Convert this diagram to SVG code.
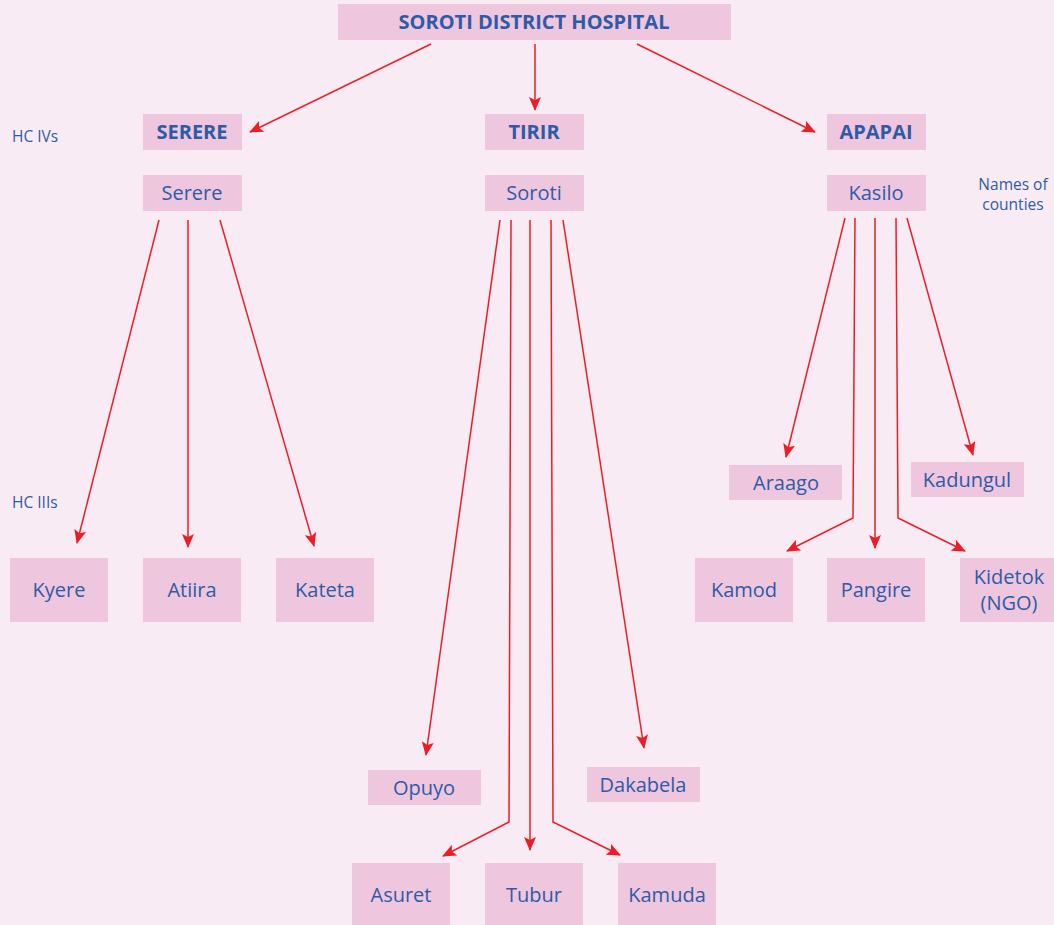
<svg xmlns="http://www.w3.org/2000/svg" width="1054" height="925" viewBox="0 0 1054 925">
<defs>
<style>
.box{fill:#eec6de}
.t{font-family:"Open Sans","Liberation Sans",sans-serif;font-size:20px;fill:#2e5ba6;text-anchor:middle}
.b{font-weight:bold}
.s{font-family:"Open Sans","Liberation Sans",sans-serif;font-size:15.5px;fill:#2e5ba6}
.c{fill:none;stroke:#ee1c25;stroke-width:1.5}
</style>
<marker id="a" markerUnits="userSpaceOnUse" markerWidth="14" markerHeight="12" refX="13" refY="6" orient="auto" viewBox="0 0 14 12">
<path d="M0,0 L14,6 L0,12 L3,6 z" fill="#ee1c25"/>
</marker>
</defs>
<rect width="1054" height="925" fill="#f9ebf4"/>
<text class="s" x="12" y="142">HC IVs</text>
<text class="s" x="12" y="508">HC IIIs</text>
<text class="s" x="1013" y="190" text-anchor="middle">Names of</text>
<text class="s" x="1013" y="210" text-anchor="middle">counties</text>
<g id="connectors">
<path class="c" marker-end="url(#a)" d="M431,44 L250,132"/>
<path class="c" marker-end="url(#a)" d="M535,44 L535,110"/>
<path class="c" marker-end="url(#a)" d="M637,44 L815,132"/>
<path class="c" marker-end="url(#a)" d="M159,220 L77,543"/>
<path class="c" marker-end="url(#a)" d="M188,220 L188,547"/>
<path class="c" marker-end="url(#a)" d="M220,220 L314,546"/>
<path class="c" marker-end="url(#a)" d="M500,220 L426,755"/>
<path class="c" marker-end="url(#a)" d="M511,220 L509,822 L443,856"/>
<path class="c" marker-end="url(#a)" d="M530,220 L530,850"/>
<path class="c" marker-end="url(#a)" d="M551,220 L553,822 L620,855"/>
<path class="c" marker-end="url(#a)" d="M563,220 L644,748"/>
<path class="c" marker-end="url(#a)" d="M845,218 L786,457"/>
<path class="c" marker-end="url(#a)" d="M855,218 L853,518 L787,551"/>
<path class="c" marker-end="url(#a)" d="M875,218 L875,548"/>
<path class="c" marker-end="url(#a)" d="M896,218 L898,518 L965,551"/>
<path class="c" marker-end="url(#a)" d="M907,218 L973,455"/>
</g>
<g id="hospital"><rect class="box" x="338" y="4" width="393" height="36"/><text class="t b" x="534" y="29">SOROTI DISTRICT HOSPITAL</text></g>
<g id="serere-hc4"><rect class="box" x="143" y="114" width="99" height="36"/><text class="t b" x="192" y="139">SERERE</text></g>
<g id="tirir"><rect class="box" x="485" y="114" width="99" height="36"/><text class="t b" x="534" y="139">TIRIR</text></g>
<g id="apapai"><rect class="box" x="827" y="114" width="99" height="36"/><text class="t b" x="876" y="139">APAPAI</text></g>
<g id="serere"><rect class="box" x="143" y="175" width="99" height="36"/><text class="t" x="192" y="200">Serere</text></g>
<g id="soroti"><rect class="box" x="485" y="175" width="99" height="36"/><text class="t" x="534" y="200">Soroti</text></g>
<g id="kasilo"><rect class="box" x="827" y="175" width="99" height="36"/><text class="t" x="876" y="200">Kasilo</text></g>
<g id="kyere"><rect class="box" x="10" y="558" width="98" height="64"/><text class="t" x="59" y="597">Kyere</text></g>
<g id="atiira"><rect class="box" x="143" y="558" width="98" height="64"/><text class="t" x="192" y="597">Atiira</text></g>
<g id="kateta"><rect class="box" x="276" y="558" width="98" height="64"/><text class="t" x="325" y="597">Kateta</text></g>
<g id="araago"><rect class="box" x="729" y="465" width="113" height="35"/><text class="t" x="786" y="490">Araago</text></g>
<g id="kadungul"><rect class="box" x="911" y="462" width="113" height="35"/><text class="t" x="967" y="487">Kadungul</text></g>
<g id="kamod"><rect class="box" x="695" y="558" width="98" height="64"/><text class="t" x="744" y="597">Kamod</text></g>
<g id="pangire"><rect class="box" x="827" y="558" width="98" height="64"/><text class="t" x="876" y="597">Pangire</text></g>
<g id="kidetok"><rect class="box" x="960" y="558" width="94" height="64"/><text class="t" x="1009" y="584">Kidetok</text><text class="t" x="1009" y="610">(NGO)</text></g>
<g id="opuyo"><rect class="box" x="368" y="770" width="113" height="35"/><text class="t" x="424" y="795">Opuyo</text></g>
<g id="dakabela"><rect class="box" x="587" y="767" width="113" height="35"/><text class="t" x="643" y="792">Dakabela</text></g>
<g id="asuret"><rect class="box" x="352" y="863" width="98" height="62"/><text class="t" x="401" y="902">Asuret</text></g>
<g id="tubur"><rect class="box" x="485" y="863" width="98" height="62"/><text class="t" x="534" y="902">Tubur</text></g>
<g id="kamuda"><rect class="box" x="618" y="863" width="98" height="62"/><text class="t" x="667" y="902">Kamuda</text></g>
</svg>
